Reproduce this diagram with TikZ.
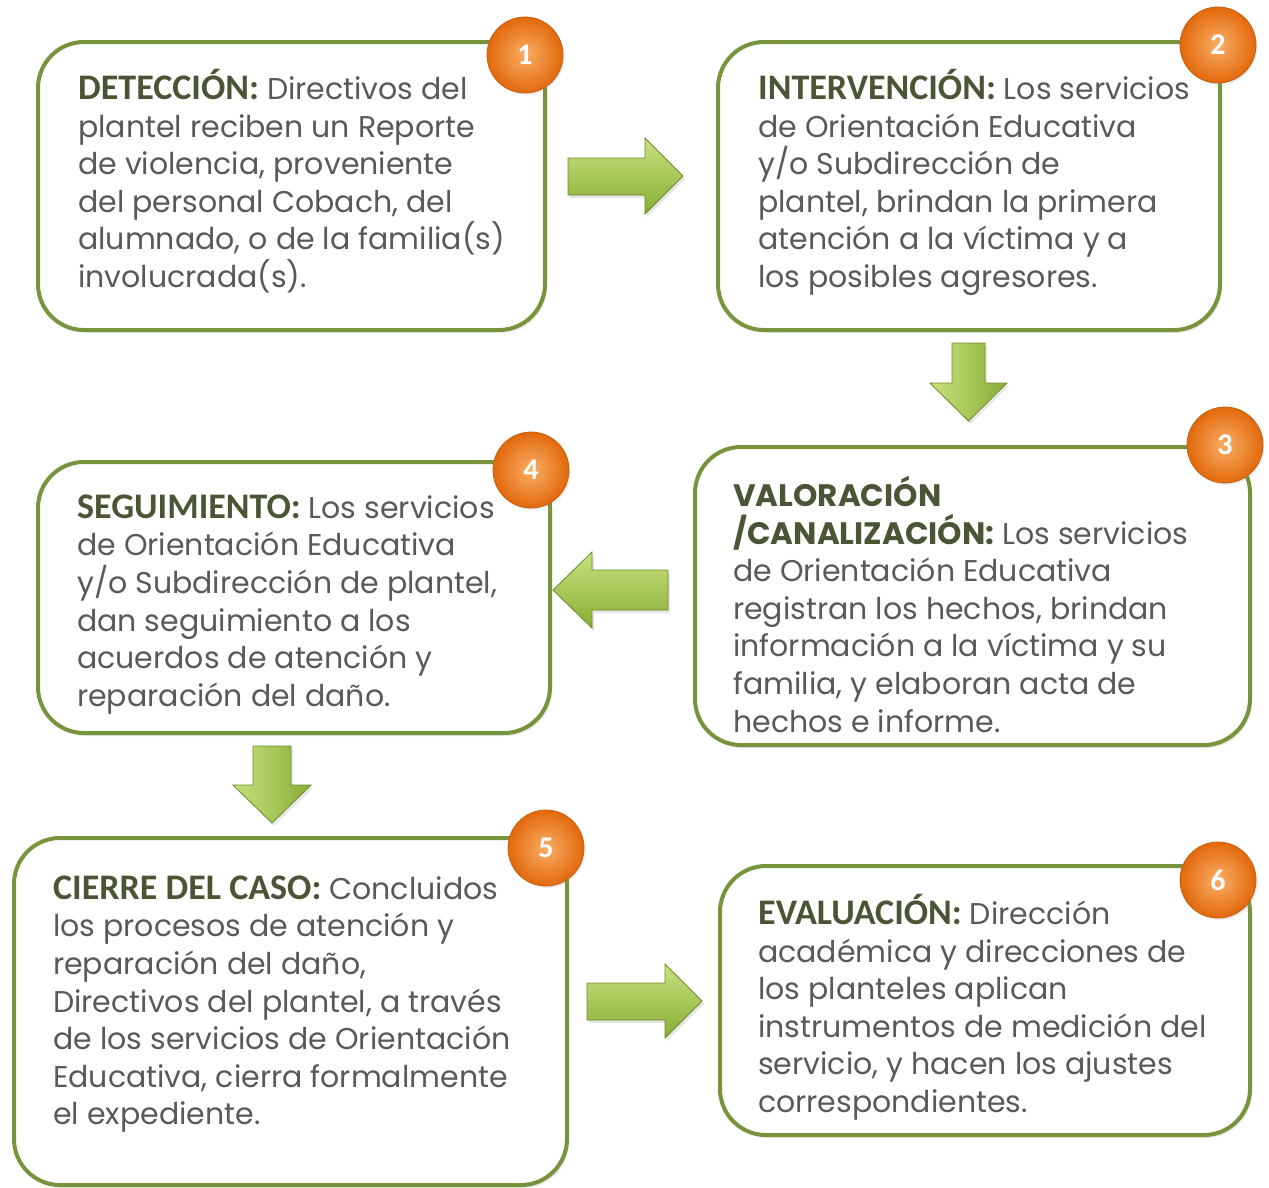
\documentclass[tikz,border=0pt]{standalone}
\usepackage{fontspec}
\setmainfont{Poppins}
\newfontfamily\headfont{Carlito}[BoldFont=* Bold]
\newfontfamily\headfontb{Poppins}[BoldFont=* Bold]
\usetikzlibrary{shadows}
\definecolor{boxgreen}{HTML}{77933C}
\definecolor{txtgray}{HTML}{595959}
\definecolor{headcol}{HTML}{4A5535}
\definecolor{orangeL}{HTML}{FAAE66}
\definecolor{orangeD}{HTML}{E2690C}
\definecolor{orangeE}{HTML}{C9600F}
\definecolor{arrL}{HTML}{C9E07E}
\definecolor{arrD}{HTML}{88AE36}
\definecolor{arrE}{HTML}{6B8C28}
\tikzset{
  stepbox/.style={draw=boxgreen, line width=4pt, rounded corners=46pt, fill=white,
    inner sep=0pt, drop shadow={opacity=0.18, shadow xshift=2pt, shadow yshift=-3pt}},
  steptext/.style={anchor=north west, inner sep=0pt, align=left, text=txtgray,
    font=\fontsize{30}{37.6}\selectfont},
  numcirc/.style={circle, minimum size=76pt, inner sep=0pt, draw=orangeE, line width=0.8pt,
    inner color=orangeL, outer color=orangeD, text=white,
    font=\headfont\bfseries\fontsize{30}{30}\selectfont,
    drop shadow={opacity=0.15, shadow xshift=1.5pt, shadow yshift=-2pt}},
  blockarrow/.style={draw=arrE, line width=0.8pt, line join=miter,
    drop shadow={opacity=0.2, shadow xshift=2pt, shadow yshift=-3pt}},
  harrow/.style={blockarrow, top color=arrL, bottom color=arrD},
  varrow/.style={blockarrow, left color=arrL, right color=arrD},
}
\newcommand\hd[1]{{\headfont\bfseries\fontsize{36}{37.6}\selectfont\color{headcol}#1}}
\newcommand\hdb[1]{{\headfontb\bfseries\fontsize{31}{37.6}\selectfont\color{headcol}#1}}
\newcommand\fl{\rule{0pt}{30pt}}
\begin{document}
\begin{tikzpicture}[x=1pt,y=-1pt]
\useasboundingbox (0,0) rectangle (1269,1187);
% boxes
\node[stepbox, minimum width=507pt, minimum height=288pt] (b1) at (291.5,186) {};
\node[stepbox, minimum width=502pt, minimum height=288pt] (b2) at (969,186) {};
\node[stepbox, minimum width=555pt, minimum height=298pt] (b3) at (972.5,596) {};
\node[stepbox, minimum width=512pt, minimum height=271pt] (b4) at (294,597.5) {};
\node[stepbox, minimum width=553pt, minimum height=347pt] (b5) at (290.5,1011.5) {};
\node[stepbox, minimum width=530pt, minimum height=269pt] (b6) at (985,1000.5) {};
% texts
\node[steptext] (t1) at (78,69) {\fl\hd{DETECCIÓN:} Directivos del\\plantel reciben un Reporte\\de violencia, proveniente\\del personal Cobach, del\\alumnado, o de la familia(s)\\involucrada(s).};
\node[steptext] (t2) at (758,69) {\fl\hd{INTERVENCIÓN:} Los servicios\\de Orientación Educativa\\y/o Subdirección de\\plantel, brindan la primera\\atención a la víctima y a\\los posibles agresores.};
\node[steptext] (t3) at (733,476) {\fl\hdb{VALORACIÓN}\\\hdb{/CANALIZACIÓN:} Los servicios\\de Orientación Educativa\\registran los hechos, brindan\\información a la víctima y su\\familia, y elaboran acta de\\hechos e informe.};
\node[steptext] (t4) at (77,488) {\fl\hd{SEGUIMIENTO:} Los servicios\\de Orientación Educativa\\y/o Subdirección de plantel,\\dan seguimiento a los\\acuerdos de atención y\\reparación del daño.};
\node[steptext] (t5) at (53,869) {\fl\hd{CIERRE DEL CASO:} Concluidos\\los procesos de atención y\\reparación del daño,\\Directivos del plantel, a través\\de los servicios de Orientación\\Educativa, cierra formalmente\\el expediente.};
\node[steptext] (t6) at (758,894) {\fl\hd{EVALUACIÓN:} Dirección\\académica y direcciones de\\los planteles aplican\\instrumentos de medición del\\servicio, y hacen los ajustes\\correspondientes.};
% number circles
\node[numcirc] (n1) at (525,55) {1};
\node[numcirc] (n2) at (1218,45) {2};
\node[numcirc] (n3) at (1225,445) {3};
\node[numcirc] (n4) at (531,470) {4};
\node[numcirc] (n5) at (546,848) {5};
\node[numcirc] (n6) at (1218,880) {6};
% block arrows
\path[harrow] (568,158) -- (645,158) -- (645,138) -- (683,176) -- (645,214) -- (645,195) -- (568,195) -- cycle;
\path[varrow] (952,343) -- (985,343) -- (985,383) -- (1007,383) -- (968.5,421) -- (930,383) -- (952,383) -- cycle;
\path[harrow] (668,570) -- (592,570) -- (592,552) -- (553,590) -- (592,628) -- (592,610) -- (668,610) -- cycle;
\path[varrow] (253,746) -- (291,746) -- (291,785) -- (311,785) -- (272,823) -- (233,785) -- (253,785) -- cycle;
\path[harrow] (587,983) -- (665,983) -- (665,964) -- (702,1001) -- (665,1038) -- (665,1020) -- (587,1020) -- cycle;
\end{tikzpicture}
\end{document}
